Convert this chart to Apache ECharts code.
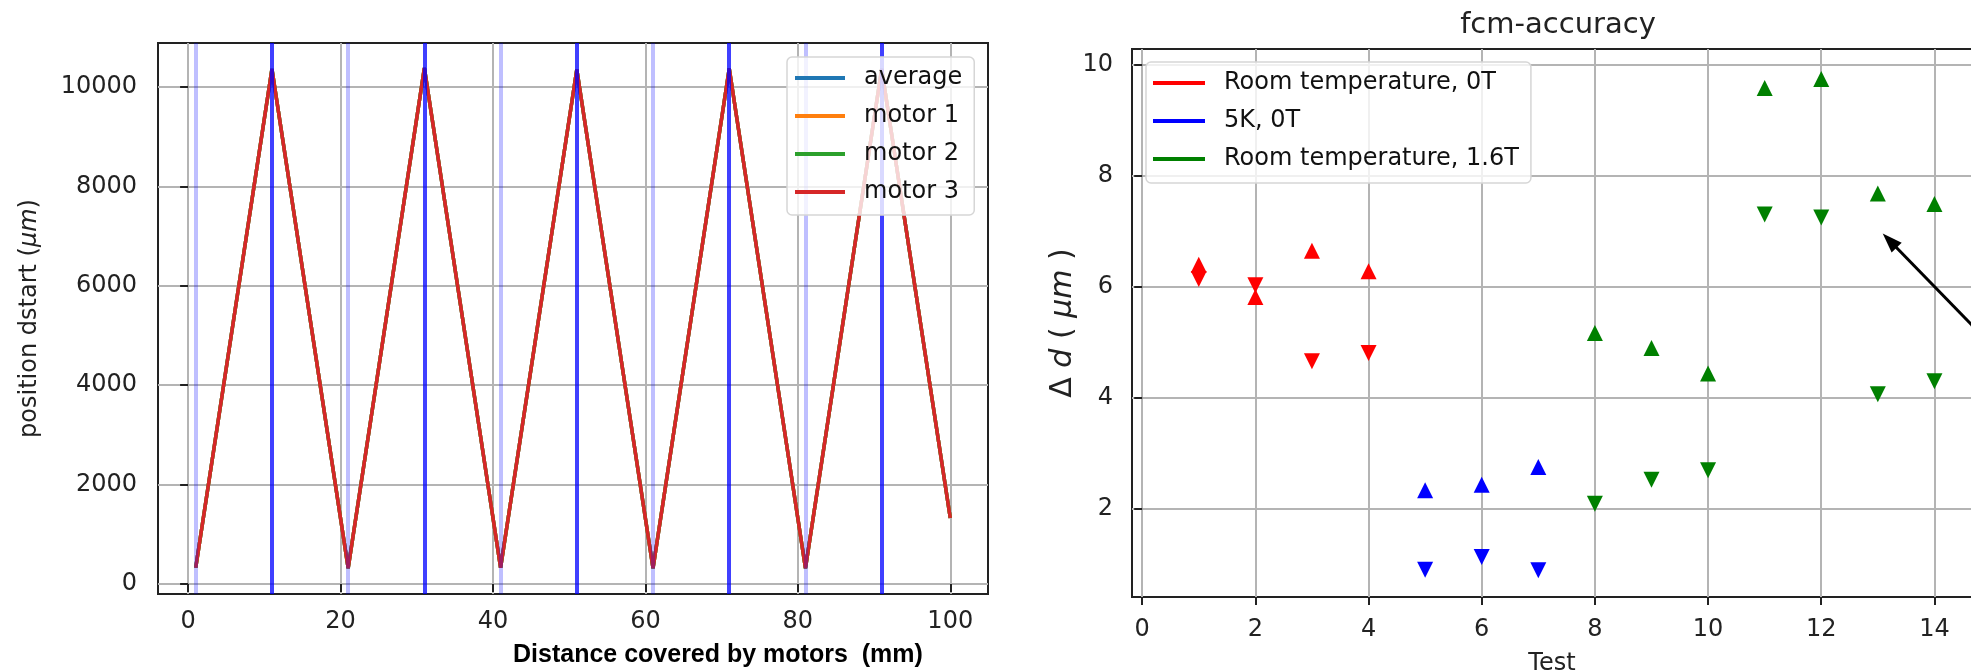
<!DOCTYPE html>
<html>
<head>
<meta charset="utf-8">
<script src="https://cdn.jsdelivr.net/npm/echarts@6/dist/echarts.min.js"></script>
<style>
  html, body { margin: 0; padding: 0; background: #fff; }
  #chart { width: 1971px; height: 672px; }
</style>
</head>
<body>
<div id="chart"></div>
<script>
// ---- Left panel: motor positions along the travelled distance ----
const distance  = [1, 11, 21, 31, 41, 51, 61, 71, 81, 91, 100];
const averagePos = [330, 10360, 320, 10380, 330, 10350, 320, 10370, 320, 10360, 1330];
const motor1Pos  = [330, 10360, 320, 10380, 330, 10350, 320, 10370, 320, 10360, 1330];
const motor2Pos  = [330, 10360, 320, 10380, 330, 10350, 320, 10370, 320, 10360, 1330];
const motor3Pos  = [330, 10360, 320, 10380, 330, 10350, 320, 10370, 320, 10360, 1330];
const turnFar  = [11, 31, 51, 71, 91];   // strong blue markers
const turnNear = [1, 21, 41, 61, 81];    // faint blue markers
const leftXTicks = [0, 20, 40, 60, 80, 100];
const leftYTicks = [0, 2000, 4000, 6000, 8000, 10000];

// ---- Right panel: fcm-accuracy ----
const rt0Tests = [1, 2, 3, 4];
const rt0Up    = [6.40, 5.82, 6.65, 6.28];
const rt0Down  = [6.14, 6.03, 4.66, 4.81];
const k5Tests  = [5, 6, 7];
const k5Up     = [2.34, 2.44, 2.76];
const k5Down   = [0.91, 1.14, 0.90];
const rt16Tests = [8, 9, 10, 11, 12, 13, 14];
const rt16Up    = [5.17, 4.90, 4.44, 9.58, 9.74, 7.68, 7.49];
const rt16Down  = [2.10, 2.53, 2.70, 7.30, 7.25, 4.07, 4.30];
const rightXTicks = [0, 2, 4, 6, 8, 10, 12, 14];
const rightYTicks = [2, 4, 6, 8, 10];
// annotation arrow (tail -> head) in data units
const arrowTail = [14.74, 5.23];
const arrowHead = [13.16, 6.885];

const FONT = 'DejaVu Sans';
const INK = '#222';
const GRID_LINE = { show: true, lineStyle: { color: '#b4b4b4', width: 2 } };

const pairs = (xs, ys) => xs.map((x, i) => [x, ys[i]]);

function valueAxis(gridIndex, min, max, ticks, margin, extra) {
  return Object.assign({
    type: 'value', gridIndex, min, max,
    axisLine: { show: false },
    axisTick: { show: true, customValues: ticks, length: 8, lineStyle: { color: INK, width: 2 } },
    axisLabel: { customValues: ticks, margin, color: INK, fontFamily: FONT, fontSize: 24,
      formatter: v => String(v) },
    splitLine: GRID_LINE
  }, extra || {});
}

const legendBase = {
  orient: 'vertical',
  backgroundColor: 'rgba(255,255,255,0.8)',
  borderColor: '#d6d6d6',
  borderWidth: 1.5,
  borderRadius: 5,
  icon: 'rect',
  itemHeight: 4,
  itemGap: 14,
  z: 10,
  selectedMode: false,
  textStyle: { fontFamily: FONT, fontSize: 24, color: '#111', lineHeight: 24, padding: [0, 0, 0, 14] }
};

const motorLine = (name, data, color, extra) => Object.assign({
  name, type: 'line', xAxisIndex: 0, yAxisIndex: 0,
  data: pairs(distance, data),
  symbol: 'none', color,
  lineStyle: { width: 3.5, color },
  animation: false
}, extra || {});

const scatter = (name, xs, ys, color, rotate) => ({
  name, type: 'scatter', xAxisIndex: 1, yAxisIndex: 1,
  data: pairs(xs, ys),
  symbol: 'triangle', symbolSize: 16, symbolRotate: rotate,
  itemStyle: { color, opacity: 1 },
  color,
  animation: false
});

const vLines = turnNear.map(x => ({ xAxis: x, lineStyle: { color: 'rgba(0,0,255,0.25)', width: 4, type: 'solid' } }))
  .concat(turnFar.map(x => ({ xAxis: x, lineStyle: { color: 'rgba(0,0,255,0.75)', width: 4, type: 'solid' } })));

const option = {
  backgroundColor: '#fff',
  animation: false,
  title: [
    { text: 'fcm-accuracy', left: 1553, top: 6, textAlign: 'center',
      textStyle: { fontFamily: FONT, fontSize: 29, fontWeight: 'normal', color: INK } },
    { text: 'Distance covered by motors  (mm)', left: 508, top: 638,
      textStyle: { fontFamily: 'Liberation Sans', fontSize: 25, fontWeight: 'bold', color: '#000' } }
  ],
  grid: [
    { left: 158, top: 43, width: 830, height: 551, show: true, borderColor: INK, borderWidth: 2,
      backgroundColor: 'transparent', containLabel: false, outerBoundsMode: 'none' },
    { left: 1132, top: 49, width: 846, height: 548, show: true, borderColor: INK, borderWidth: 2,
      backgroundColor: 'transparent', containLabel: false, outerBoundsMode: 'none' }
  ],
  xAxis: [
    valueAxis(0, -3.95, 104.95, leftXTicks, 16),
    valueAxis(1, -0.18, 14.77, rightXTicks, 21, {
      name: 'Test', nameLocation: 'middle', nameGap: 55,
      nameTextStyle: { fontFamily: FONT, fontSize: 24, color: INK, padding: [0, 6, 0, 0] }
    })
  ],
  yAxis: [
    valueAxis(0, -200, 10885, leftYTicks, 21, {
      name: 'position dstart ({i|μm})', nameLocation: 'middle', nameRotate: 90, nameGap: 116,
      nameTextStyle: { fontFamily: FONT, fontSize: 24, color: INK,
        rich: { i: { fontFamily: FONT, fontSize: 24, fontStyle: 'italic', color: INK } } }
    }),
    valueAxis(1, 0.42, 10.28, rightYTicks, 19, {
      name: 'Δ {i|d} ( {i|μm} )', nameLocation: 'middle', nameRotate: 90, nameGap: 50,
      nameTextStyle: { fontFamily: FONT, fontSize: 30, color: INK,
        rich: { i: { fontFamily: FONT, fontSize: 30, fontStyle: 'italic', color: INK } } }
    })
  ],
  legend: [
    Object.assign({}, legendBase, {
      left: 787, top: 57, itemWidth: 50, padding: [9, 12, 11, 8],
      data: ['average', 'motor 1', 'motor 2', 'motor 3']
    }),
    Object.assign({}, legendBase, {
      left: 1146, top: 62, itemWidth: 52, padding: [9, 12, 12, 7],
      data: ['Room temperature, 0T', '5K, 0T', 'Room temperature, 1.6T']
    })
  ],
  series: [
    motorLine('average', averagePos, '#1f77b4'),
    motorLine('motor 1', motor1Pos, '#ff7f0e'),
    motorLine('motor 2', motor2Pos, '#2ca02c'),
    motorLine('motor 3', motor3Pos, '#d62728', {
      markLine: { silent: true, symbol: ['none', 'none'], label: { show: false }, z: 6,
        animation: false, data: vLines }
    }),
    scatter('Room temperature, 0T', rt0Tests, rt0Up, '#ff0000', 0),
    scatter('Room temperature, 0T', rt0Tests, rt0Down, '#ff0000', 180),
    scatter('5K, 0T', k5Tests, k5Up, '#0000ff', 0),
    scatter('5K, 0T', k5Tests, k5Down, '#0000ff', 180),
    scatter('Room temperature, 1.6T', rt16Tests, rt16Up, '#008000', 0),
    Object.assign(scatter('Room temperature, 1.6T', rt16Tests, rt16Down, '#008000', 180), {
      clip: false,
      markLine: {
        silent: true, animation: false, z: 6,
        symbol: ['none', 'triangle'], symbolSize: [14, 20], symbolOffset: [0, [0, 4]],
        label: { show: false },
        lineStyle: { color: '#000', width: 3, type: 'solid', opacity: 1 },
        itemStyle: { color: '#000' },
        data: [[{ coord: arrowTail }, { coord: arrowHead }]]
      }
    })
  ]
};

const chart = echarts.init(document.getElementById('chart'), null, { renderer: 'canvas' });
chart.setOption(option);
</script>
</body>
</html>
